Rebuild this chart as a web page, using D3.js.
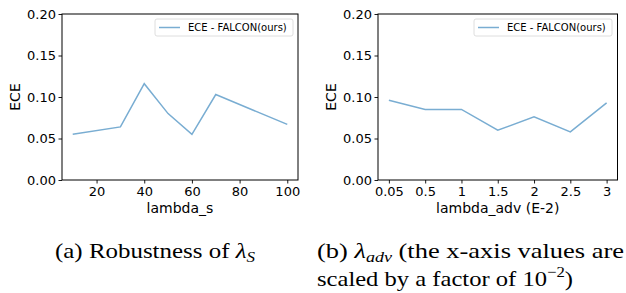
<!DOCTYPE html>
<html>
<head>
<meta charset="utf-8">
<script src="https://cdn.jsdelivr.net/npm/d3@7"></script>
<style>
  body { margin: 0; background: #fff; }
  svg { display: block; }
  .tick text { font-family: "DejaVu Sans", sans-serif; font-size: 13px; fill: #000; }
  .lbl { font-family: "DejaVu Sans", sans-serif; font-size: 14px; fill: #000; }
</style>
</head>
<body>
<div id="chart"></div>
<script>
// data
var lambdaS = [10, 30, 40, 50, 60, 70, 100];
var eceS = [0.055, 0.064, 0.116, 0.080, 0.055, 0.103, 0.067];

var lambdaAdv = ["0.05", "0.5", "1", "1.5", "2", "2.5", "3"];
var eceAdv = [0.096, 0.085, 0.085, 0.060, 0.076, 0.058, 0.093];

var yTicks = [0, 0.05, 0.10, 0.15, 0.20];
var xTicksS = [20, 40, 60, 80, 100];
var legendLabel = "ECE - FALCON(ours)";

var lineColor = "#79add2";

var svg = d3.select("#chart")
  .append("svg")
    .attr("width", 626)
    .attr("height", 293);

// one panel = one axes box with line + legend
function drawPanel(o) {
  var g = svg.append("g");

  var y = d3.scaleLinear()
    .domain([0, 0.2])
    .range([o.bottom, o.top]);

  // left axis
  g.append("g")
    .attr("transform", "translate(" + o.left + ",0)")
    .call(d3.axisLeft(y).tickValues(yTicks).tickFormat(d3.format(".2f"))
      .tickSizeInner(3.5).tickSizeOuter(0).tickPadding(2.5))
    .call(function(a) { a.select(".domain").remove(); });

  // bottom axis
  var ax = g.append("g")
    .attr("transform", "translate(0," + o.bottom + ")")
    .call(o.xAxis.tickSizeInner(3.5).tickSizeOuter(0).tickPadding(3.5));
  ax.select(".domain").remove();

  g.selectAll(".tick line").attr("stroke", "#000").attr("stroke-width", 0.9);

  // frame
  g.append("rect")
    .attr("x", o.left).attr("y", o.top)
    .attr("width", o.right - o.left).attr("height", o.bottom - o.top)
    .attr("fill", "none").attr("stroke", "#000").attr("stroke-width", 1);

  var line = d3.line()
    .x(function(d, i) { return o.xPos(d, i); })
    .y(function(d, i) { return y(o.values[i]); });

  g.append("path")
    .datum(o.xs)
    .attr("d", line)
    .attr("fill", "none")
    .attr("stroke", lineColor)
    .attr("stroke-width", 1.5);

  // axis labels
  g.append("text").attr("class", "lbl")
    .attr("x", (o.left + o.right) / 2).attr("y", 212.5)
    .attr("text-anchor", "middle")
    .text(o.xLabel);

  g.append("text").attr("class", "lbl")
    .attr("transform", "translate(" + o.yLabelX + "," + ((o.top + o.bottom) / 2) + ") rotate(-90)")
    .attr("text-anchor", "middle")
    .text("ECE");

  // legend
  var lg = g.append("g").attr("transform", "translate(" + o.legX + ",19)");
  lg.append("rect")
    .attr("width", 138).attr("height", 17).attr("rx", 2)
    .attr("fill", "#fff").attr("stroke", "#d6d6d6").attr("stroke-width", 0.8);
  lg.append("line")
    .attr("x1", 4).attr("x2", 25).attr("y1", 8.5).attr("y2", 8.5)
    .attr("stroke", lineColor).attr("stroke-width", 1.5);
  lg.append("text")
    .attr("x", 33).attr("y", 12.2)
    .attr("font-family", "DejaVu Sans").attr("font-size", 10)
    .text(legendLabel);
}

// panel (a)
var xS = d3.scaleLinear().domain([5.5, 104.5]).range([62, 298]);
drawPanel({
  left: 62, right: 298, top: 14, bottom: 180,
  xs: lambdaS, values: eceS,
  xPos: function(d) { return xS(d); },
  xAxis: d3.axisBottom(xS).tickValues(xTicksS),
  xLabel: "lambda_s", yLabelX: 20, legX: 155
});

// panel (b), categorical x
var xA = d3.scalePoint().domain(lambdaAdv).range([378, 617.5]).padding(0.3);
drawPanel({
  left: 378, right: 617.5, top: 14, bottom: 180,
  xs: lambdaAdv, values: eceAdv,
  xPos: function(d) { return xA(d); },
  xAxis: d3.axisBottom(xA),
  xLabel: "lambda_adv (E-2)", yLabelX: 336, legX: 474
});

// captions (Times-like serif, stretched a bit to the reference widths)
function caption(x, y, len) {
  return svg.append("text")
    .attr("x", x).attr("y", y)
    .attr("font-family", "Liberation Serif").attr("font-size", 22)
    .attr("textLength", len).attr("lengthAdjust", "spacingAndGlyphs");
}

var c1 = caption(55, 258, 200);
c1.append("tspan").text("(a) Robustness of ");
c1.append("tspan").attr("font-style", "italic").text("λ");
c1.append("tspan").attr("font-style", "italic").attr("font-size", 15).attr("dy", 4).text("S");

var c2 = caption(317, 258, 307);
c2.append("tspan").text("(b) ");
c2.append("tspan").attr("font-style", "italic").text("λ");
c2.append("tspan").attr("font-style", "italic").attr("font-size", 15).attr("dy", 4).text("adv");
c2.append("tspan").attr("dy", -4).text(" (the x-axis values are");

var c3 = caption(317, 286, 256);
c3.append("tspan").text("scaled by a factor of 10");
c3.append("tspan").attr("font-size", 15).attr("dy", -9).text("−2");
c3.append("tspan").attr("dy", 9).text(")");
</script>
</body>
</html>
